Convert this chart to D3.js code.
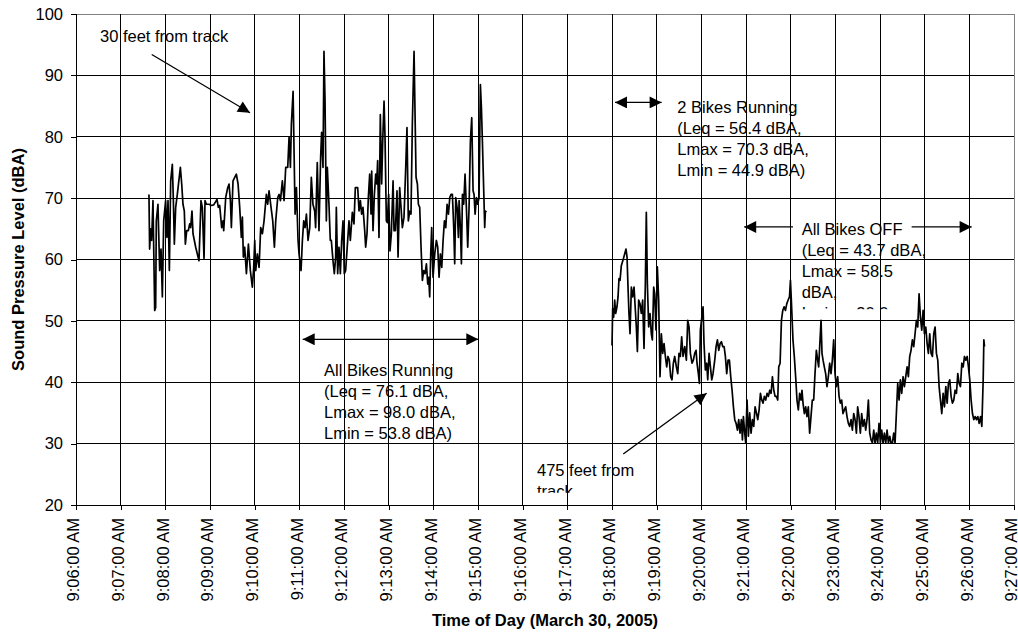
<!DOCTYPE html>
<html>
<head>
<meta charset="utf-8">
<script src="https://cdn.jsdelivr.net/npm/d3@7"></script>
<style>
  body { margin: 0; background: #fff; }
  svg { display: block; font-family: "Liberation Sans", Arial, sans-serif; }
  .grid line { stroke: #000; stroke-width: 1; shape-rendering: crispEdges; }
  .axis path { display: none; }
  .axis line { stroke: #000; shape-rendering: crispEdges; }
  .axis text { font-size: 16.5px; fill: #000; }
  .note { font-size: 16.5px; fill: #000; }
  .arrow { stroke: #000; stroke-width: 1.3; fill: none; }
</style>
</head>
<body>
<svg id="chart" width="1018" height="633"></svg>
<script>
// readings: [seconds after 9:06:00, dBA]
var nearReadings = [
  [98,70.6],[98.9,61.7],[100.3,65.0],[101.6,63.1],[103.4,69.6],[105.7,51.7],[107,52.2],[107.9,66.3],[110.1,69.0],[112.4,58.2],
  [114.2,61.7],[116,53.9],[117.8,66.3],[120.4,69.6],[122.2,63.6],[123.6,69.6],[125.4,58.2],[127.2,72.8],[129.4,75.5],[130.8,69.6],
  [132.1,62.5],[133.9,68.5],[136.1,70.6],[140.2,75.0],[142,72.3],[143.7,69.0],[145.5,67.9],[146.9,62.5],[148.7,64.7],[150.9,64.7],
  [152.7,65.8],[154,65.2],[155.8,67.9],[157.2,64.2],[160.8,62.0],[163,60.9],[165.2,59.8],[167.9,69.6],[169.7,68.5],[172,60.1],
  [173.3,69.6],[175.1,69.0],[178.7,69.0],[181.8,68.8],[185,68.9],[189.4,69.8],[191.2,68.5],[193,68.8],[195.7,65.2],[197.5,66.3],
  [198.4,64.7],[201.1,70.1],[203.8,71.7],[205.6,72.3],[207.4,69.6],[208.7,65.2],[210.9,72.8],[215.4,73.9],[217.7,72.3],[219.9,68.5],
  [222.1,63.6],[223.5,66.9],[224.8,60.4],[226.6,62.0],[228.9,57.7],[231.6,62.5],[234.2,58.2],[236.9,55.5],[238.7,58.7],[240.1,63.1],
  [241.4,58.2],[243.6,60.9],[245.9,58.7],[248.1,65.2],[250.4,64.2],[252.6,66.3],[255.7,70.6],[257.5,69.0],[259.3,71.2],[262,68.5],
  [264.3,66.3],[266.5,62.0],[268.3,66.3],[271,70.1],[272.8,70.6],[274.6,69.6],[277.2,72.8],[279.5,69.6],[281.7,75.0],[284.4,75.0],
  [286.2,79.9],[288,75.0],[289.3,82.0],[291.6,87.4],[294.3,67.4],[296.1,71.7],[298.3,63.1],[299.6,60.9],[302.3,58.2],[304.1,63.1],
  [305.9,66.3],[307.7,65.2],[309.5,67.4],[311.7,63.1],[314,65.2],
  [316.1,73.4],[318.3,69.0],[320.6,67.9],[321.9,65.2],[324.1,75.8],[326.4,64.7],[328.6,76.6],[329.9,80.7],[331.8,75.0],[333.1,93.9],
  [334.5,86.1],[336.3,66.3],[337.6,75.0],[339.8,69.0],[341.6,63.1],[343,63.1],[345.2,59.8],[347,57.7],[348.8,60.4],[349.7,68.5],
  [351.5,57.7],[353.3,62.0],[355.1,57.7],[356.9,63.1],[358.7,66.3],[360.4,57.7],[362.2,58.2],[364,61.4],[366.7,66.3],[368.5,63.1],
  [371.2,67.7],[373.4,65.8],[375.2,71.7],[378.4,71.7],[380.2,67.9],[382,69.6],[383.7,67.4],[385.5,68.5],[387.8,64.7],[389.1,62.0],
  [390.9,64.2],[392.7,70.1],[394.5,73.9],[396.3,67.4],[397.2,74.4],[399,64.7],[400.8,70.6],[402.6,73.9],[403.9,72.3],[405.2,76.1],
  [407,63.6],[408.8,83.6],[410.6,72.3],[412,79.3],[413.8,85.8],[415.1,79.9],[416.9,66.3],[418.2,66.0],[420,70.6],[421.8,61.4],
  [423.6,64.2],[425.9,72.8],[427.2,64.7],[429,64.7],[431.2,71.2],[432.6,60.4],[434.8,71.7],[436.6,68.5],[438.4,65.2],[440.6,66.9],
  [442.9,75.0],[444.6,81.5],[446.4,66.3],[448.3,67.9],[450,67.4],[451.8,82.0],[454.1,93.9],[456.8,73.4],[458.6,72.3],[459.9,69.0],
  [461.7,68.5],[463.5,62.0],[465.3,56.6],[467.1,58.2],[468.9,57.7],[470.7,59.3],[472.5,56.0],[473.8,57.1],[475.1,53.9],[476.5,60.9],
  [477.8,65.2],[479.6,57.1],[481.9,60.9],[484.1,63.1],[485.9,62.0],[487.7,57.1],[489.5,60.9],[491.3,58.7],[493.1,63.1],[494.9,66.3],
  [496.7,65.2],[498.5,69.0],[500.3,67.4],[502.1,70.1],[503.8,70.6],[505.6,70.6],[507.4,65.2],[508.7,59.3],[510.1,70.1],[511.9,68.5],
  [513.7,63.6],[514.6,69.6],[516.4,65.2],[517.7,59.3],[519.1,70.6],[520.8,69.0],[522.6,73.9],[524.4,68.5],[526.2,62.0],[528,68.5],
  [529.8,79.3],[531.6,83.1],[533.4,71.2],[534.7,70.6],[536.1,67.4],[537.9,70.1],[539.6,69.0],[541.4,70.1],[543.2,88.5],[544.6,84.7],
  [545.9,79.3],[547.7,71.2],[549,65.2],[549.9,67.9],[551.3,67.7]
];

var farReadings = [
  [720,46.0],[720.9,52.0],[722.2,50.6],[723.6,53.4],[724.9,51.2],[726.7,52.3],[728.1,53.9],[729.4,56.9],[730.8,56.6],[732.5,59.0],
  [734.8,59.9],[737,60.9],[738.8,61.7],[740.2,60.4],[741.5,55.5],[742.8,51.2],[744.2,47.9],[746,55.5],[747.8,53.9],[749.6,55.5],
  [751.4,51.7],[752.7,49.0],[754.1,45.0],[755.8,53.4],[757.6,52.8],[759.4,51.2],[761.2,53.4],[763,45.5],[764.8,56.1],[766.1,67.7],
  [767.5,56.1],[769.3,49.0],[771.1,51.2],[772.8,47.9],[774.2,46.9],[776,55.5],[777.3,54.4],[779.1,48.5],[780.9,58.8],[782.7,53.4],
  [784.5,40.9],[786.3,47.9],[788.1,44.7],[789.9,46.3],[791.7,44.2],[793.5,42.5],[795.2,44.2],[797,43.6],[798.8,40.9],[800.6,40.4],
  [802.4,43.1],[804.2,44.2],[806.5,42.5],[808.3,41.4],[810,44.7],[811.8,44.2],[813.6,47.4],[815.4,44.2],[817.7,45.8],[819.9,43.6],
  [821.7,50.1],[823.5,49.0],[825.3,44.7],[827.5,43.1],[829.3,43.6],[831.1,44.7],[832.9,45.2],[834.2,43.1],[836,41.4],[837.4,39.8],
  [838.7,48.5],[840.5,50.4],[842.3,52.3],[843.6,46.3],[845.4,42.0],[847.2,43.1],[848.6,40.4],[850.4,44.7],[852.2,42.5],[854,40.4],
  [855.7,41.4],[858,43.6],[859.8,45.8],[861.6,46.9],[863.4,45.2],[865.2,46.3],[867,46.6],[868.8,45.8],[870.6,45.8],[872.3,44.2],
  [874.1,41.4],[875.9,43.6],[877.7,43.6],[879.5,40.9],[881.3,38.7],[883.1,36.0],[884.9,33.9],[886.7,33.3],[888.5,32.2],[890.2,33.9],
  [892,31.7],[893.8,33.9],[895.2,30.6],[896.5,34.4],[898.3,31.7],[899.6,30.1],[901.4,37.1],[903.2,31.2],[905,35.0],[906.8,31.7],
  [908.6,33.9],[910.4,32.8],[912.2,36.0],[914,35.0],[915.8,33.9],[917.6,35.5],[919.4,38.2],[921.2,37.1],[922.9,36.6],[924.7,37.7],
  [926.5,37.1],[928.3,38.2],[930.1,37.7],[931.9,38.7],[933.7,38.2],[935.5,40.9],[937.3,38.7],[939.1,37.7],[940.9,37.7],[942.6,37.1],
  [944,42.5],[945.8,43.1],[947.6,50.1],[949.4,51.7],[951.2,52.3],[953,51.7],[954.8,52.8],[956.6,53.4],[958.4,53.9],[959.7,56.6],
  [960.9,53.4],[963.1,46.9],[964.9,44.2],[966.7,40.9],[968.5,37.1],[970.3,35.5],[972.1,38.2],[973.9,37.1],[975.2,38.7],[976.6,36.6],
  [978.4,34.9],[980.2,36.0],[981.9,34.4],[983.7,36.0],[985.5,31.7],[987.3,34.4],[989.1,37.1],[990.9,37.1],[992.7,41.4],[994.5,45.2],
  [996.3,43.6],[997.6,42.5],[999,45.8],[1000.8,50.1],[1002.1,44.7],[1003.5,43.6],[1005.2,42.5],[1007,41.4],[1008.8,39.3],[1010.6,40.9],
  [1012.4,43.1],[1014.2,41.4],[1016,43.6],[1017.8,46.9],[1019.6,41.4],[1021.4,39.3],[1023.2,40.9],[1025,37.7],[1026.7,36.6],[1028.5,37.1],
  [1030.3,34.9],[1032.1,35.5],[1033.9,36.0],[1035.7,34.4],[1037.5,33.3],[1039.3,32.8],[1041.1,33.9],[1042.9,32.2],[1044.7,34.9],[1046.5,33.9],
  [1048.3,31.7],[1050,36.0],[1051.8,34.4],[1053.6,31.7],[1055.4,34.9],[1057.2,32.8],[1059,33.9],[1060.8,32.2],[1062.6,33.9],[1064.4,37.1],
  [1066.2,31.7],[1068,30.6],[1069.8,30.1],[1071.6,32.2],[1073.3,30.1],[1075.1,31.7],[1076.9,30.1],[1078.7,33.3],[1080.5,30.1],[1082.3,32.2],
  [1084.1,30.1],[1085.9,31.7],[1087.7,30.1],[1089.5,32.2],[1091.3,30.1],[1093.1,31.2],[1094.8,30.1],[1096.6,30.1],[1098.4,31.7],[1100.2,30.1],
  [1102,34.9],[1103.8,39.8],[1105.6,37.1],[1107.4,40.4],[1109.2,38.2],[1111,40.9],[1112.8,39.3],[1114.6,40.9],[1116.4,42.5],[1118.1,40.9],
  [1119.9,44.2],[1121.7,45.2],[1123.5,46.9],[1125.3,45.8],[1127.1,47.9],[1128.9,50.1],[1130.7,49.0],[1132.5,54.4],[1134.3,50.6],[1136.1,48.5],
  [1137.9,51.7],[1139.7,47.9],[1141.5,49.0],[1143.3,46.3],[1145,44.7],[1146.8,47.9],[1148.6,44.7],[1150.4,44.2],[1152.2,47.9],[1154,49.0],
  [1155.8,44.7],[1157.6,43.6],[1159.4,39.3],[1161.2,37.1],[1163,34.9],[1164.8,38.2],[1166.6,36.0],[1168.4,39.3],[1170.2,36.6],[1171.9,39.8],
  [1173.7,40.4],[1175.5,37.7],[1177.3,36.6],[1179.1,37.1],[1180.9,38.7],[1182.7,38.2],[1184.5,41.4],[1186.3,39.8],[1188.1,39.3],[1189.9,43.1],
  [1191.7,42.5],[1193.5,44.2],[1195.3,43.6],[1197.1,44.2],[1198.8,42.5],[1200.6,40.4],[1202.4,37.1],[1204.2,34.9],[1206,33.9],[1207.8,34.4],
  [1209.6,33.9],[1211.4,34.4],[1213.2,33.3],[1215,34.4],[1216.8,32.8],[1218.6,40.4],[1219.5,46.9],[1220.4,45.8]
];

var yTicks = [20, 30, 40, 50, 60, 70, 80, 90, 100];

var runningNote = ["All Bikes Running", "(Leq = 76.1 dBA,", "Lmax = 98.0 dBA,", "Lmin = 53.8 dBA)"];
var twoBikesNote = ["2 Bikes Running", "(Leq = 56.4 dBA,", "Lmax = 70.3 dBA,", "Lmin = 44.9 dBA)"];
var offNote = ["All Bikes OFF", "(Leq = 43.7 dBA,", "Lmax = 58.5", "dBA,", "Lmin = 30.0"];
var farNote = ["475 feet from", "track"];

var svg = d3.select("#chart"),
    margin = {top: 14, right: 4, bottom: 128, left: 76},
    width = 1018 - margin.left - margin.right,
    height = 633 - margin.top - margin.bottom;

var g = svg.append("g")
    .attr("transform", "translate(" + margin.left + "," + margin.top + ")");

var t0 = new Date(2005, 2, 30, 9, 6, 0),
    t1 = new Date(2005, 2, 30, 9, 27, 0);
function at(s) { return t0.getTime() + s * 1000; }

var x = d3.scaleTime().domain([t0, t1]).range([0, width]);
var y = d3.scaleLinear().domain([20, 100]).range([height, 0]);
var minutes = d3.timeMinute.range(t0, d3.timeMinute.offset(t1, 1));

// grid
var grid = g.append("g").attr("class", "grid");
grid.selectAll(".h").data(yTicks).enter().append("line")
    .attr("x1", 0).attr("x2", width)
    .attr("y1", function(d) { return y(d); })
    .attr("y2", function(d) { return y(d); })
    .style("stroke", function(d) { return d == 100 ? "#808080" : "#000"; });
grid.selectAll(".v").data(minutes).enter().append("line")
    .attr("y1", 0).attr("y2", height)
    .attr("x1", function(d) { return x(d); })
    .attr("x2", function(d) { return x(d); })
    .style("stroke", function(d, i) { return i == minutes.length - 1 ? "#808080" : "#000"; });

// axes
g.append("g").attr("class", "axis")
    .attr("transform", "translate(0," + height + ")")
    .call(d3.axisBottom(x).tickValues(minutes).tickSize(5).tickFormat(d3.timeFormat("%-I:%M:%S %p")))
  .selectAll("text")
    .attr("text-anchor", "end")
    .attr("transform", "rotate(-90)")
    .attr("x", -13)
    .attr("y", -3)
    .attr("dy", "0.35em");

g.append("g").attr("class", "axis")
    .call(d3.axisLeft(y).tickValues(yTicks).tickSize(5).tickPadding(8));

svg.append("text")
    .attr("transform", "translate(18," + (margin.top + height / 2) + ")rotate(-90)")
    .attr("text-anchor", "middle")
    .attr("dy", "0.35em")
    .style("font-size", "16.5px").style("font-weight", "bold")
    .text("Sound Pressure Level (dBA)");

svg.append("text")
    .attr("x", margin.left + width / 2)
    .attr("y", 626)
    .attr("text-anchor", "middle")
    .style("font-size", "16.5px").style("font-weight", "bold")
    .text("Time of Day (March 30, 2005)");

// series
var line = d3.line()
    .x(function(d) { return x(at(d[0])); })
    .y(function(d) { return y(d[1]); });

[nearReadings, farReadings].forEach(function(series) {
  g.append("path")
      .datum(series)
      .attr("d", line)
      .style("fill", "none")
      .style("stroke", "#000")
      .style("stroke-width", 1.7)
      .style("stroke-linejoin", "round");
});

// annotations
svg.append("defs").append("marker")
    .attr("id", "head")
    .attr("viewBox", "0 0 10 10")
    .attr("refX", 10).attr("refY", 5)
    .attr("markerUnits", "userSpaceOnUse")
    .attr("markerWidth", 13).attr("markerHeight", 12)
    .attr("orient", "auto-start-reverse")
  .append("path")
    .attr("d", "M0,0L10,5L0,10Z")
    .style("fill", "#000");

function arrow(s1, v1, s2, v2, both) {
  var a = g.append("line").attr("class", "arrow")
      .attr("x1", x(at(s1))).attr("y1", y(v1))
      .attr("x2", x(at(s2))).attr("y2", y(v2))
      .attr("marker-end", "url(#head)");
  if (both) a.attr("marker-start", "url(#head)");
}

// text box, optionally cut off at a lower edge (value clipTo)
function note(lines, s, v, clipTo, id) {
  var t = g.append("text").attr("class", "note")
      .attr("x", x(at(s))).attr("y", y(v));
  if (clipTo != null) {
    svg.select("defs").append("clipPath").attr("id", id)
      .append("rect")
        .attr("x", x(at(s)) - 2).attr("y", y(v) - 20)
        .attr("width", 200).attr("height", y(clipTo) - y(v) + 20);
    t.attr("clip-path", "url(#" + id + ")");
  }
  t.selectAll("tspan").data(lines).enter().append("tspan")
      .attr("x", x(at(s)))
      .attr("dy", function(d, i) { return i ? "21px" : "0.35em"; })
      .text(function(d) { return d; });
}

note(["30 feet from track"], 32.2, 96.3);
arrow(101.7, 93.4, 233.7, 83.9);

arrow(304.5, 47.0, 540.4, 47.0, true);
note(runningNote, 333.1, 41.9);

arrow(724, 85.6, 786.7, 85.6, true);
note(twoBikesNote, 807.7, 84.8);

arrow(963.1, 65.3, 897.6, 65.3);
arrow(1122.5, 65.3, 1203.1, 65.3);
note(offNote, 974.8, 65.0, 51.9, "offclip");

note(farNote, 619.2, 25.6, 22.0, "farclip");
arrow(735.1, 28.3, 847.1, 38.2);
</script>
</body>
</html>
